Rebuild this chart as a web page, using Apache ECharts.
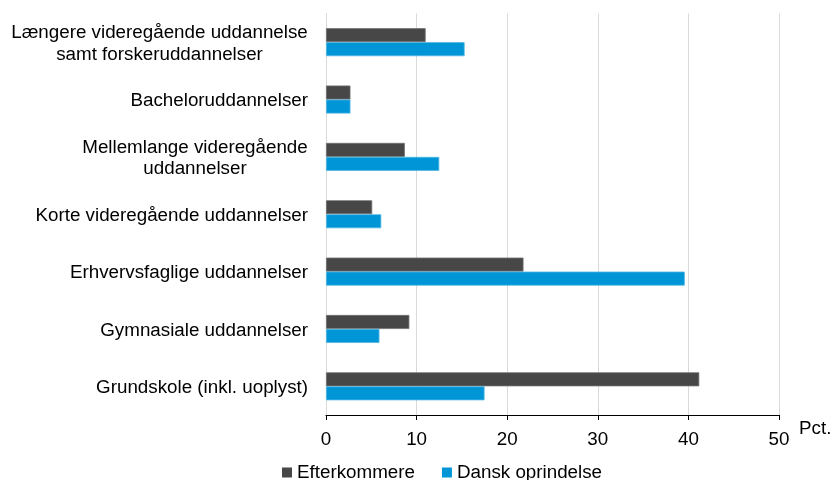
<!DOCTYPE html>
<html>
<head>
<meta charset="utf-8">
<script src="https://cdn.jsdelivr.net/npm/echarts@6/dist/echarts.min.js"></script>
<style>html,body{margin:0;padding:0;background:#fff;overflow:hidden}#c{width:831px;height:480px}</style>
</head>
<body>
<div id="c"></div>
<script>
var categories = [
  'Længere videregående uddannelse\nsamt forskeruddannelser',
  'Bacheloruddannelser',
  'Mellemlange videregående\nuddannelser',
  'Korte videregående uddannelser',
  'Erhvervsfaglige uddannelser',
  'Gymnasiale uddannelser',
  'Grundskole (inkl. uoplyst)'
];
var efterkommere = [11.0, 2.7, 8.7, 5.1, 21.8, 9.2, 41.2];
var danskOprindelse = [15.3, 2.7, 12.5, 6.1, 39.6, 5.9, 17.5];
var xTicks = [0, 10, 20, 30, 40, 50];
var seriesNames = ['Efterkommere', 'Dansk oprindelse'];
var unitLabel = 'Pct.';

var FONT = '"Liberation Sans", Arial, Helvetica, sans-serif';
var FS = 18.8;

var ctx = document.createElement('canvas').getContext('2d');
ctx.font = FS + 'px ' + FONT;
var rich = {};
categories.forEach(function (c, i) {
  var lines = c.split('\n');
  var w = 0;
  lines.forEach(function (l) { w = Math.max(w, ctx.measureText(l).width); });
  rich['m' + i] = { width: Math.ceil(w), align: 'center', fontSize: FS, fontFamily: FONT, color: '#000', lineHeight: 21.5 };
});

var chart = echarts.init(document.getElementById('c'), null, { renderer: 'canvas' });
chart.setOption({
  animation: false,
  textStyle: { fontFamily: FONT },
  grid: { left: 326, right: 52, top: 13.5, bottom: 65, containLabel: false, outerBoundsMode: 'none' },
  legend: {
    data: seriesNames,
    left: 277, top: 458,
    itemWidth: 10, itemHeight: 10, itemGap: 27,
    icon: 'rect',
    itemStyle: { borderWidth: 0 },
    textStyle: { fontSize: FS, color: '#000', fontFamily: FONT }
  },
  xAxis: {
    type: 'value',
    min: xTicks[0], max: xTicks[xTicks.length - 1], interval: xTicks[1] - xTicks[0],
    name: unitLabel,
    nameLocation: 'end',
    nameGap: 20,
    nameTextStyle: { fontSize: FS, color: '#000', fontFamily: FONT, verticalAlign: 'top', padding: [4, 0, 0, 0] },
    axisLine: { show: true, lineStyle: { color: '#000', width: 1 } },
    axisTick: { show: true, length: 5, lineStyle: { color: '#000' } },
    axisLabel: { fontSize: FS, color: '#000', margin: 15, fontFamily: FONT },
    splitLine: { show: true, lineStyle: { color: '#d9d9d9', width: 1 } }
  },
  yAxis: {
    type: 'category',
    data: categories,
    inverse: true,
    axisLine: { show: true, lineStyle: { color: '#d9d9d9' } },
    axisTick: { show: false },
    axisLabel: {
      fontSize: FS, color: '#000', margin: 18, fontFamily: FONT, lineHeight: 21.5,
      padding: [3, 0, 0, 0],
      formatter: function (v, i) {
        var lines = v.split('\n');
        if (lines.length === 1) return v;
        return lines.map(function (l) { return '{m' + i + '|' + l + '}'; }).join('\n');
      },
      rich: rich
    }
  },
  series: [
    {
      name: seriesNames[0], type: 'bar', data: efterkommere,
      barWidth: 14, barGap: '0%',
      itemStyle: { color: '#474747', borderColor: '#707070', borderWidth: 0.8 }
    },
    {
      name: seriesNames[1], type: 'bar', data: danskOprindelse,
      barWidth: 14, barGap: '0%',
      itemStyle: { color: '#0095d6', borderColor: '#4fb6e4', borderWidth: 0.8 }
    }
  ]
});
</script>
</body>
</html>
